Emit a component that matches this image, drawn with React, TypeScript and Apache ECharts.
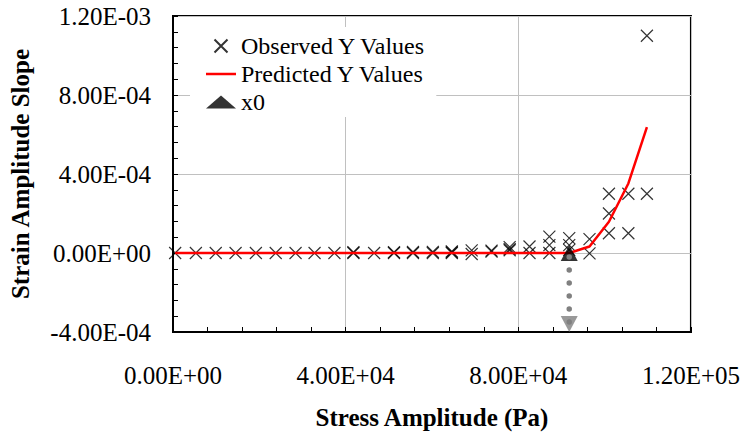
import React, { useEffect, useRef } from "react";
import * as echarts from "echarts";

// Stress amplitude (Pa) and measured strain-amplitude slope for each observation
const observedStress = [
  500, 5300, 9900, 14500, 19200, 23800, 28400, 32800, 37400, 41800, 41800,
  46600, 51200, 51200, 55600, 55600, 60200, 60200, 64600, 64600, 64600,
  69200, 69200, 73800, 73800, 78000, 78000, 78000, 82600, 82600, 87200,
  87200, 87200, 91800, 91800, 91800, 96500, 96500, 101000, 101000, 101000,
  105500, 105500, 109800, 109800,
];
const observedSlope = [
  0, 0, 0, 0, 0, 0, 0, 0, 0, 0, 0.000004,
  0, 0, 0.000004, 0, 0.000005, 0, 0.000006, 0, 0.000004, 0.000008,
  0.000013, -0.000005, 0.000012, 0.000007, 0.00003, 0.00002, 0.000014, 0.000033, 0, 0.000083,
  0.00004, 0, 0.000075, 0.00004, 0.000016, 0.00007, -0.000002, 0.0003, 0.0002, 0.0001,
  0.0003, 0.0001, 0.0003, 0.0011,
];

// Fitted model evaluated at each stress level
const predictedStress = [
  500, 5300, 9900, 14500, 19200, 23800, 28400, 32800, 37400, 41800, 46600,
  51200, 55600, 60200, 64600, 69200, 73800, 78000, 82600, 87200, 91800,
  96500, 101000, 105500, 109800,
];
const predictedSlope = [
  0, 0, 0, 0, 0, 0, 0, 0, 0, 0, 0,
  0, 0, 0, 0, 0, 0, 0, 0, 0, 0,
  0.000033, 0.000158, 0.000352, 0.000637,
];

// Onset point of the fit
const x0Stress = [91800];
const x0Slope = [0];

// Axis tick values
const stressTicks = [0, 40000, 80000, 120000];
const slopeTicks = [-0.0004, 0, 0.0004, 0.0008, 0.0012];

const FONT = "Liberation Serif";
const CROSS = "path://M0,0L10,10M10,0L0,10";
const BAR = "path://M0,0L30,0L30,2.5L0,2.5Z";

function sci(v: number): string {
  const [m, e] = v.toExponential(2).split("e");
  const n = parseInt(e, 10);
  return `${m}E${n < 0 ? "-" : "+"}${String(Math.abs(n)).padStart(2, "0")}`;
}

export default function App() {
  const ref = useRef<HTMLDivElement>(null);

  useEffect(() => {
    if (!ref.current) return;
    const chart = echarts.init(ref.current, undefined, { renderer: "svg" });

    const xMin = stressTicks[0];
    const xMax = stressTicks[stressTicks.length - 1];
    const yMin = slopeTicks[0];
    const yMax = slopeTicks[slopeTicks.length - 1];

    const nameStyle = { fontFamily: FONT, fontSize: 25, fontWeight: "bold", color: "#000" };
    const tickLine = { color: "#000", width: 1 };

    chart.setOption({
      animation: false,
      backgroundColor: "#fff",
      grid: {
        left: 172,
        right: 51,
        top: 16,
        bottom: 99,
        show: true,
        borderColor: "#000",
        borderWidth: 2,
        backgroundColor: "transparent",
      },
      legend: {
        orient: "vertical",
        left: 190,
        top: 27,
        padding: [7, 10, 3, 16],
        itemWidth: 30,
        itemHeight: 13,
        itemGap: 4,
        backgroundColor: "#fff",
        selectedMode: false,
        textStyle: { fontFamily: FONT, fontSize: 24, color: "#000" },
        data: [
          { name: "Observed Y Values" },
          { name: "Predicted Y Values", icon: BAR, itemStyle: { color: "#ff0000" } },
          { name: "x0" },
        ],
      },
      xAxis: {
        type: "value",
        min: xMin,
        max: xMax,
        interval: stressTicks[1] - stressTicks[0],
        axisLine: { show: true, onZero: false, lineStyle: { color: "#000", width: 2 } },
        axisTick: { show: true, inside: true, length: 5, lineStyle: tickLine },
        minorTick: { show: true, splitNumber: 5, length: 5, lineStyle: tickLine },
        splitLine: { show: true, lineStyle: { color: "#c0c0c0", width: 1 } },
        name: "Stress Amplitude (Pa)",
        nameLocation: "middle",
        nameGap: 73,
        nameTextStyle: nameStyle,
        axisLabel: { formatter: sci, fontFamily: FONT, fontSize: 25, color: "#000", margin: 31 },
      },
      yAxis: {
        type: "value",
        min: yMin,
        max: yMax,
        interval: slopeTicks[1] - slopeTicks[0],
        axisLine: { show: true, onZero: false, lineStyle: { color: "#000", width: 2 } },
        axisTick: { show: true, inside: true, length: 5, lineStyle: tickLine },
        minorTick: { show: true, splitNumber: 5, length: 5, lineStyle: tickLine },
        splitLine: { show: true, lineStyle: { color: "#c0c0c0", width: 1 } },
        name: "Strain Amplitude Slope",
        nameLocation: "middle",
        nameGap: 140,
        nameTextStyle: nameStyle,
        axisLabel: {
          formatter: sci,
          fontFamily: FONT,
          fontSize: 25,
          color: "#000",
          margin: 22,
          padding: [8, 0, 0, 0],
        },
      },
      series: [
        {
          name: "Observed Y Values",
          type: "scatter",
          symbol: CROSS,
          symbolSize: 12,
          itemStyle: { color: "transparent", borderColor: "#000", borderWidth: 1.2 },
          data: observedStress.map((x, i) => [x, observedSlope[i]]),
          z: 3,
        },
        {
          name: "Predicted Y Values",
          type: "line",
          symbol: "none",
          lineStyle: { color: "#ff0000", width: 2.5 },
          itemStyle: { color: "#ff0000" },
          data: predictedStress.map((x, i) => [x, predictedSlope[i]]),
          z: 4,
        },
        {
          name: "x0",
          type: "scatter",
          symbol: "triangle",
          symbolSize: [17, 16],
          itemStyle: { color: "#000" },
          data: x0Stress.map((x, i) => [x, x0Slope[i]]),
          z: 5,
        },
        {
          name: "drop",
          type: "line",
          symbol: "none",
          silent: true,
          lineStyle: { color: "#808080", width: 5.5, type: [0, 13], cap: "round", dashOffset: 8.5 },
          data: [
            [x0Stress[0], x0Slope[0]],
            [x0Stress[0], yMin],
          ],
          z: 6,
        },
        {
          name: "dropArrow",
          type: "scatter",
          symbol: "triangle",
          symbolRotate: 180,
          symbolSize: [17, 16],
          symbolOffset: [0, -8],
          clip: false,
          silent: true,
          itemStyle: { color: "#808080" },
          data: [[x0Stress[0], yMin]],
          z: 7,
        },
      ],
    });

    return () => chart.dispose();
  }, []);

  return (
    <div
      ref={ref}
      style={{ position: "absolute", left: 0, top: 0, width: 743, height: 435, background: "#fff" }}
    />
  );
}
